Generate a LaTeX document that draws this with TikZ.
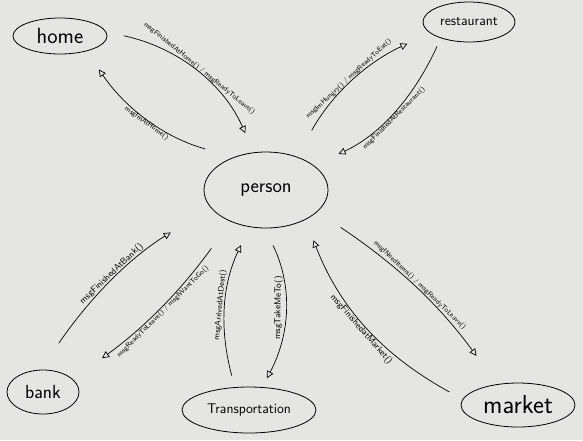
\documentclass[tikz,border=0pt]{standalone}
\usetikzlibrary{arrows.meta,shapes.geometric}
\definecolor{paper}{RGB}{229,229,227}
\begin{document}
\begin{tikzpicture}[x=1pt,y=-1pt,font=\sffamily,
 state/.style={draw, ellipse, line width=0.8pt, inner sep=0pt},
 msg/.style={-{Triangle[open,length=7pt,width=7pt]}, line width=0.7pt, bend left=#1},
 lbl/.style={sloped, midway, inner sep=1.5pt, font=\sffamily\scriptsize}]
\fill[paper] (0,0) rectangle (583,440);
\useasboundingbox (0,0) rectangle (583,440);

\node[state, minimum width=94, minimum height=36, font=\sffamily\fontsize{22}{24}\selectfont] (home) at (60,36) {home};
\node[state, minimum width=92, minimum height=40, font=\sffamily\fontsize{14}{16}\selectfont] (rest) at (469,22) {restaurant};
\node[state, minimum width=124, minimum height=76, font=\sffamily\fontsize{20}{22}\selectfont] (person) at (266,190) {person};
\node[state, minimum width=72, minimum height=44, font=\sffamily\fontsize{19}{21}\selectfont] (bank) at (43,392) {bank};
\node[state, minimum width=134, minimum height=46, font=\sffamily\fontsize{14}{16}\selectfont] (trans) at (249,410) {Transportation};
\node[state, minimum width=114, minimum height=44, font=\sffamily\fontsize{26}{28}\selectfont] (market) at (518,405) {market};

 % home
 \draw[msg=27, shorten <=18pt, shorten >=21pt] (home.5) to node[lbl, above] {msgFinishedAtHome() / msgReadyToLeave()} (person.108);
 \draw[msg=20, shorten <=30pt, shorten >=22pt] (person.134) to node[lbl, below] {msgImAtHome()} (home.-30);
 % restaurant
 \draw[msg=18, shorten <=30pt, shorten >=25pt] (person.47) to node[lbl, above] {msgImHungry() / msgReadyToEat()} (rest.-164);
 \draw[msg=20, shorten <=9pt, shorten >=27pt] (rest.-150) to node[lbl, below] {msgFinishedAtRestaurant()} (person.27);
 % bank
 \draw[msg=12, shorten <=32pt, shorten >=47pt] (bank.96) to node[lbl, above, font=\sffamily\small] {msgFinishedAtBank()} (person.-162);
 \draw[msg=9, shorten <=33pt, shorten >=36pt] (person.-138) to node[lbl, below] {msgReadyToLeave() / msgIWantToGo()} (bank.23);
 % transportation
 \draw[msg=20, shorten <=12pt, shorten >=20pt] (trans.122) to node[lbl, above, font=\sffamily\footnotesize] {msgArrivedAtDest()} (person.-114);
 \draw[msg=27, shorten <=19pt, shorten >=10pt] (person.-92) to node[lbl, above, font=\sffamily\small] {msgTakeMeTo()} (trans.60);
 % market
 \draw[msg=20, shorten <=15pt, shorten >=22pt] (market.174) to node[lbl, below, font=\sffamily\small] {msgFinishedatMarket()} (person.-37);
 \draw[msg=10, shorten <=28pt, shorten >=35pt] (person.-23) to node[lbl, above] {msgINeedItems() / msgReadyToLeave()} (market.135);

\end{tikzpicture}
\end{document}
